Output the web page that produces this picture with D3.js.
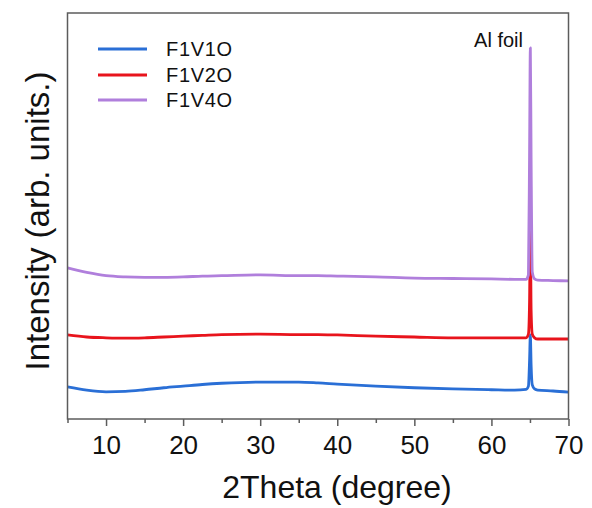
<!DOCTYPE html>
<html>
<head>
<meta charset="utf-8">
<script src="https://cdn.jsdelivr.net/npm/d3@7"></script>
<style>
  html, body { margin: 0; padding: 0; background: #fff; }
  svg { display: block; font-family: "Liberation Sans", Arial, sans-serif; }
</style>
</head>
<body>
<svg id="chart" width="592" height="508"></svg>
<script>
// ---- data (2θ in degrees, intensity in arbitrary units) ----
const seriesNames = ["F1V1O", "F1V2O", "F1V4O"];
const seriesColors = ["#2a6fd6", "#e8141c", "#b07fdc"];

const theta = [5, 7.5, 10, 12.5, 15, 17.5, 20, 22.5, 25, 30, 35, 37.5, 40, 45, 50, 55, 60, 63, 64.5, 64.8, 64.95, 65.05, 65.15, 65.3, 65.6, 66, 68, 70];

const f1v1o = [79, 71, 67, 68, 72, 77, 81, 85, 88, 91, 91, 89, 86, 81, 77, 74, 72, 71, 73, 81, 145, 207, 133, 84, 74, 71, 69, 66];
const f1v2o = [207, 202, 200, 199, 200, 202, 204, 206, 208, 209, 208, 208, 207, 204, 202, 200, 200, 200, 200, 209, 293, 466, 268, 209, 200, 197, 197, 197];
const f1v4o = [372, 361, 353, 350, 349, 349, 350, 352, 353, 355, 353, 353, 352, 350, 347, 346, 345, 344, 344, 355, 663, 914, 638, 362, 345, 342, 341, 340];

const xMajorTicks = [10, 20, 30, 40, 50, 60, 70];
const xMinorTicks = [5, 15, 25, 35, 45, 55, 65];
const xTitle = "2Theta (degree)";
const yTitle = "Intensity (arb. units.)";
const annotation = { text: "Al foil", x: 65 };

// ---- layout ----
const svg = d3.select("#chart");
const margin = { left: 67.5, right: 23.5, top: 13, bottom: 89 };
const W = 592, H = 508;
const x = d3.scaleLinear().domain([5, 70]).range([margin.left, W - margin.right]);
const y = d3.scaleLinear().domain([0, 1000]).range([H - margin.bottom, margin.top]);

const frameColor = "#5c5c5c";

// series
const allSeries = [f1v1o, f1v2o, f1v4o];
const line = d3.line().x(d => x(d[0])).y(d => y(d[1])).curve(d3.curveMonotoneX);
allSeries.forEach((vals, i) => {
  const pts = theta.map((t, j) => [t, vals[j]]);
  svg.append("path")
    .attr("d", line(pts))
    .attr("fill", "none")
    .attr("stroke", seriesColors[i])
    .attr("stroke-width", 2.8)
    .attr("stroke-linejoin", "round");
});

// frame
svg.append("rect")
  .attr("x", x(5)).attr("y", y(1000))
  .attr("width", x(70) - x(5)).attr("height", y(0) - y(1000))
  .attr("fill", "none").attr("stroke", frameColor).attr("stroke-width", 1.5);

// x axis
const xAxis = d3.axisBottom(x).tickValues(xMajorTicks).tickSize(7).tickPadding(10).tickFormat(d3.format("d"));
const gx = svg.append("g").attr("transform", `translate(0,${y(0)})`).call(xAxis);
gx.select(".domain").remove();
gx.selectAll(".tick line").attr("stroke", frameColor).attr("stroke-width", 1.5);
gx.selectAll(".tick text").attr("font-size", 26).attr("fill", "#111")
  .attr("font-family", "'Liberation Sans', Arial, sans-serif");

const xAxisMinor = d3.axisBottom(x).tickValues(xMinorTicks).tickSize(4).tickFormat("");
const gxm = svg.append("g").attr("transform", `translate(0,${y(0)})`).call(xAxisMinor);
gxm.select(".domain").remove();
gxm.selectAll(".tick line").attr("stroke", frameColor).attr("stroke-width", 1.5);

// axis titles
svg.append("text")
  .attr("x", (x(5) + x(70)) / 2 + 19).attr("y", 498)
  .attr("text-anchor", "middle").attr("font-size", 32).attr("fill", "#111")
  .text(xTitle);

svg.append("text")
  .attr("transform", `translate(49,221) rotate(-90)`)
  .attr("text-anchor", "middle").attr("font-size", 33).attr("fill", "#111")
  .text(yTitle);

// annotation
svg.append("text")
  .attr("x", x(annotation.x) - 7).attr("y", 47)
  .attr("text-anchor", "end").attr("font-size", 20).attr("fill", "#111")
  .text(annotation.text);

// legend
const legendY = [49, 75, 100];
seriesNames.forEach((name, i) => {
  svg.append("line")
    .attr("x1", 98).attr("x2", 147)
    .attr("y1", legendY[i]).attr("y2", legendY[i])
    .attr("stroke", seriesColors[i]).attr("stroke-width", 2.8);
  svg.append("text")
    .attr("x", 166).attr("y", legendY[i] + 7)
    .attr("font-size", 20).attr("letter-spacing", 0.7).attr("fill", "#111")
    .text(name);
});
</script>
</body>
</html>
